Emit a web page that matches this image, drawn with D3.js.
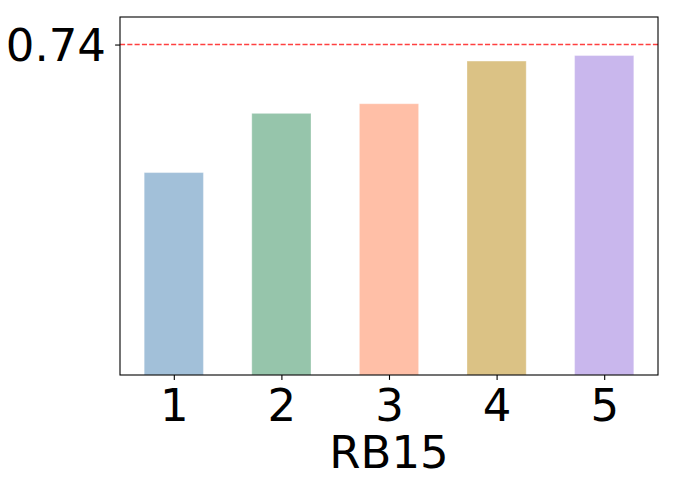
<!DOCTYPE html>
<html>
<head>
<meta charset="utf-8">
<script src="https://cdn.jsdelivr.net/npm/d3@7"></script>
<style>
  html, body { margin: 0; padding: 0; background: #fff; }
  svg { display: block; font-family: 'DejaVu Sans', sans-serif; }
</style>
</head>
<body>
<div id="chart"></div>
<script>
const categories = [1, 2, 3, 4, 5];
const values = [0.647, 0.690, 0.697, 0.728, 0.732];
const colors = ['steelblue', 'seagreen', 'coral', 'darkgoldenrod', 'mediumpurple'];
const yTicks = [0.74];
const refValue = 0.74;
const xLabel = 'RB15';

const width = 676, height = 489;
const margin = { top: 17, right: 18, bottom: 114, left: 120 };
const plotW = width - margin.left - margin.right;
const plotH = height - margin.top - margin.bottom;

const svg = d3.select('#chart')
  .append('svg')
  .attr('width', width)
  .attr('height', height);

const g = svg.append('g')
  .attr('transform', `translate(${margin.left},${margin.top})`);

const x = d3.scaleLinear().domain([0.5, 5.5]).range([0, plotW]);
const y = d3.scaleLinear().domain([0.5, 0.76]).range([plotH, 0]);
const barW = x(0.55) - x(0);

// bars
g.selectAll('.bar')
  .data(categories)
  .enter()
  .append('rect')
  .attr('class', 'bar')
  .attr('x', (d, i) => x(d) - barW / 2)
  .attr('y', (d, i) => y(values[i]))
  .attr('width', barW)
  .attr('height', (d, i) => plotH - y(values[i]))
  .attr('fill', (d, i) => colors[i])
  .attr('fill-opacity', 0.5)
  .attr('stroke', '#fff')
  .attr('stroke-opacity', 0.3)
  .attr('stroke-width', 1);

// reference line
g.append('line')
  .attr('x1', 0)
  .attr('x2', plotW)
  .attr('y1', y(refValue))
  .attr('y2', y(refValue))
  .attr('stroke', 'red')
  .attr('stroke-opacity', 0.75)
  .attr('stroke-width', 1.4)
  .attr('stroke-dasharray', '5.1,2.2');

// axes
const xAxis = g.append('g')
  .attr('transform', `translate(0,${plotH})`)
  .call(d3.axisBottom(x).tickValues(categories).tickFormat(d3.format('d')).tickSize(4.9).tickPadding(4.9));

const yAxis = g.append('g')
  .call(d3.axisLeft(y).tickValues(yTicks).tickFormat(d3.format('.2f')).tickSize(4.9).tickPadding(4.9));

[xAxis, yAxis].forEach(a => {
  a.select('.domain').remove();
  a.selectAll('line').attr('stroke', '#000').attr('stroke-width', 1.1);
  a.selectAll('text')
    .attr('fill', '#000')
    .style('font-size', '45px')
    .style('font-family', "'DejaVu Sans', sans-serif");
});

xAxis.selectAll('text').attr('dy', null).attr('y', plotH - plotH + 46);
yAxis.selectAll('text').attr('dy', '0.36em').attr('x', -14);

// frame
g.append('rect')
  .attr('width', plotW)
  .attr('height', plotH)
  .attr('fill', 'none')
  .attr('stroke', '#000')
  .attr('stroke-width', 1.1);

// axis label
svg.append('text')
  .attr('x', margin.left + plotW / 2)
  .attr('y', 468)
  .attr('text-anchor', 'middle')
  .style('font-size', '45px')
  .attr('fill', '#000')
  .text(xLabel);
</script>
</body>
</html>
